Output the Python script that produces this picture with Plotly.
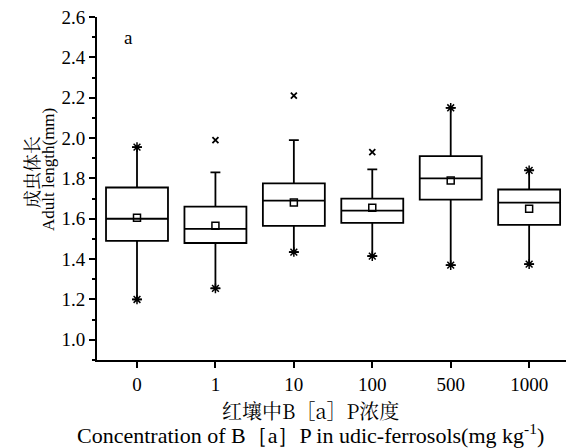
import plotly.graph_objects as go

categories = ["0", "1", "10", "100", "500", "1000"]
q1 = [1.49, 1.48, 1.565, 1.58, 1.695, 1.57]
median = [1.60, 1.55, 1.69, 1.64, 1.80, 1.68]
q3 = [1.755, 1.66, 1.775, 1.70, 1.91, 1.745]
lower_whisker = [1.20, 1.255, 1.435, 1.415, 1.37, 1.375]
upper_whisker = [1.955, 1.83, 1.99, 1.845, 2.15, 1.84]
means = [1.605, 1.565, 1.68, 1.655, 1.79, 1.65]
# markers at whisker ends (asterisks) and outliers (x)
min_marks = [1.20, 1.255, 1.435, 1.415, 1.37, 1.375]
max_mark_cats = ["0", "500", "1000"]
max_marks = [1.955, 2.15, 1.84]
outlier_cats = ["1", "10", "100"]
outliers = [1.99, 2.21, 1.93]

xpos = list(range(len(categories)))
idx = {c: i for i, c in enumerate(categories)}

SERIF = "Liberation Serif, Times New Roman, serif"
CJK = "Noto Serif CJK SC, Noto Sans CJK SC, Liberation Serif, serif"

fig = go.Figure()
fig.add_trace(go.Box(
    x=xpos, q1=q1, median=median, q3=q3,
    lowerfence=lower_whisker, upperfence=upper_whisker,
    width=0.79, whiskerwidth=0.16,
    fillcolor="white", line=dict(color="black", width=1.8),
    boxpoints=False, showlegend=False,
))
fig.add_trace(go.Scatter(
    x=xpos, y=means, mode="markers",
    marker=dict(symbol="square-open", size=7, color="black", line=dict(width=1.5)),
    showlegend=False,
))
fig.add_trace(go.Scatter(
    x=xpos, y=min_marks, mode="markers",
    marker=dict(symbol="asterisk-open", size=8, color="black", line=dict(width=1.5)),
    showlegend=False,
))
fig.add_trace(go.Scatter(
    x=[idx[c] for c in max_mark_cats], y=max_marks, mode="markers",
    marker=dict(symbol="asterisk-open", size=8, color="black", line=dict(width=1.5)),
    showlegend=False,
))
fig.add_trace(go.Scatter(
    x=[idx[c] for c in outlier_cats], y=outliers, mode="markers",
    marker=dict(symbol="x-thin-open", size=6, color="black", line=dict(width=1.8)),
    showlegend=False,
))

fig.update_layout(
    width=566, height=448,
    margin=dict(l=97, r=0, t=17, b=88),
    paper_bgcolor="white", plot_bgcolor="white",
    font=dict(family=SERIF, size=19, color="black"),
    xaxis=dict(
        range=[-0.51, 5.47], tickmode="array", tickvals=xpos, ticktext=categories,
        showline=True, linecolor="black", linewidth=2, ticks="outside",
        ticklen=6, tickwidth=2, tickcolor="black", showgrid=False, zeroline=False,
        tickfont=dict(family=SERIF, size=19),
    ),
    yaxis=dict(
        range=[0.9, 2.6], tickmode="array",
        tickvals=[1.0, 1.2, 1.4, 1.6, 1.8, 2.0, 2.2, 2.4, 2.6],
        ticktext=["1.0", "1.2", "1.4", "1.6", "1.8", "2.0", "2.2", "2.4", "2.6"],
        showline=True, linecolor="black", linewidth=2, ticks="outside",
        ticklen=6, tickwidth=2, tickcolor="black", showgrid=False, zeroline=False,
        tickfont=dict(family=SERIF, size=19),
        minor=dict(tickvals=[0.9, 1.1, 1.3, 1.5, 1.7, 1.9, 2.1, 2.3, 2.5],
                   ticks="outside", ticklen=3, tickwidth=2, tickcolor="black"),
    ),
    annotations=[
        dict(text="a", x=128, y=38, showarrow=False,
             font=dict(family=SERIF, size=19)),
        dict(text="成虫体长", x=31, y=172, textangle=-90, showarrow=False,
             font=dict(family=CJK, size=18)),
        dict(text="Adult length(mm)", x=49, y=170, textangle=-90, showarrow=False,
             font=dict(family=SERIF, size=17)),
        dict(text="红壤中B［a］P浓度", x=310, y=411, showarrow=False,
             font=dict(family=CJK, size=20)),
        dict(text="Concentration of B［a］P in udic-ferrosols(mg kg<sup>-1</sup>)",
             x=310, y=434, showarrow=False, font=dict(family=SERIF, size=22)),
    ],
)

# convert pixel annotation positions to paper coordinates
pl, pt, pw, ph = 97, 17, 566 - 97 - 0, 448 - 17 - 88
for a in fig.layout.annotations:
    a.xref = "paper"
    a.yref = "paper"
    a.x = (a.x - pl) / pw
    a.y = 1 - (a.y - pt) / ph
    a.xanchor = "center"
    a.yanchor = "middle"

fig.write_html("out.html", config={"displayModeBar": False},
               post_script="document.body.style.margin='0';")
